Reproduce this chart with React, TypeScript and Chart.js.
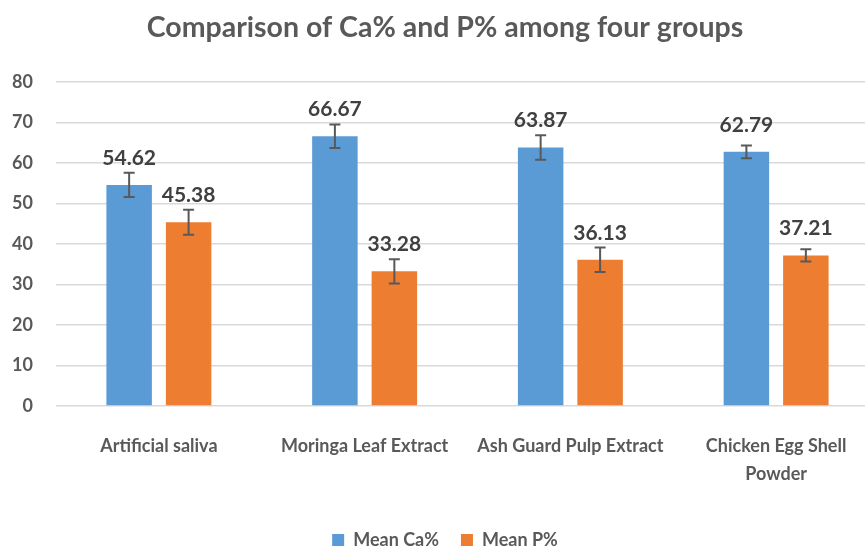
import React, { useEffect, useRef } from "react";
import { Chart, registerables } from "chart.js";

Chart.register(...registerables);

const categories = [
  "Artificial saliva",
  "Moringa Leaf Extract",
  "Ash Guard Pulp Extract",
  ["Chicken Egg Shell", "Powder"],
];
const caValues = [54.62, 66.67, 63.87, 62.79];
const pValues = [45.38, 33.28, 36.13, 37.21];
const caErrors = [3.0, 2.9, 3.0, 1.6];
const pErrors = [3.1, 3.0, 3.0, 1.5];
const yTicks = [0, 10, 20, 30, 40, 50, 60, 70, 80];

const FONT = "Lato, 'DejaVu Sans', sans-serif";
const TEXT = "#595959";

const errorBarPlugin = {
  id: "errorBars",
  afterDatasetsDraw(chart: any) {
    const ctx = chart.ctx;
    const y = chart.scales.y;
    const errs = [caErrors, pErrors];
    chart.data.datasets.forEach((ds: any, di: number) => {
      const meta = chart.getDatasetMeta(di);
      meta.data.forEach((bar: any, i: number) => {
        const v = ds.data[i];
        const e = errs[di][i];
        const yt = y.getPixelForValue(v + e);
        const yb = y.getPixelForValue(v - e);
        const x = bar.x;
        ctx.save();
        ctx.strokeStyle = "#595959";
        ctx.lineWidth = 2;
        ctx.beginPath();
        ctx.moveTo(x, yt);
        ctx.lineTo(x, yb);
        ctx.moveTo(x - 5.5, yt);
        ctx.lineTo(x + 5.5, yt);
        ctx.moveTo(x - 5.5, yb);
        ctx.lineTo(x + 5.5, yb);
        ctx.stroke();
        ctx.restore();
      });
    });
  },
};

const labelPlugin = {
  id: "valueLabels",
  afterDatasetsDraw(chart: any) {
    const ctx = chart.ctx;
    chart.data.datasets.forEach((ds: any, di: number) => {
      const meta = chart.getDatasetMeta(di);
      meta.data.forEach((bar: any, i: number) => {
        ctx.save();
        ctx.fillStyle = "#404040";
        ctx.font = "bold 21px " + FONT;
        ctx.textAlign = "center";
        ctx.textBaseline = "middle";
        ctx.fillText(ds.data[i].toFixed(2), bar.x, bar.y - 27);
        ctx.restore();
      });
    });
  },
};

export default function App() {
  const ref = useRef<HTMLCanvasElement>(null);
  useEffect(() => {
    if (!ref.current) return;
    const chart = new Chart(ref.current, {
      type: "bar",
      data: {
        labels: categories as any,
        datasets: [
          {
            label: "Mean Ca%",
            data: caValues,
            backgroundColor: "#5B9BD5",
            categoryPercentage: 0.578,
            barPercentage: 0.765,
          },
          {
            label: "Mean P%",
            data: pValues,
            backgroundColor: "#ED7D31",
            categoryPercentage: 0.578,
            barPercentage: 0.765,
          },
        ],
      },
      options: {
        animation: false,
        responsive: false,
        maintainAspectRatio: false,
        layout: { padding: { left: 0, right: 0, top: 10, bottom: 1 } },
        plugins: {
          title: {
            display: true,
            text: "Comparison of Ca% and P% among four groups",
            color: TEXT,
            font: { family: FONT, size: 28.5, weight: "bold", lineHeight: 1.2 },
            padding: { top: 1, bottom: 37 },
          },
          legend: {
            position: "bottom",
            labels: {
              color: TEXT,
              font: { family: FONT, size: 18, weight: "bold" },
              boxWidth: 12,
              boxHeight: 12,
              padding: 22,
            },
          },
          tooltip: { enabled: false },
        },
        scales: {
          x: {
            grid: { display: false, drawTicks: false },
            border: { display: false },
            ticks: {
              color: TEXT,
              font: { family: FONT, size: 18, weight: "bold", lineHeight: 1.556 },
              padding: 26,
              maxRotation: 0,
              autoSkip: false,
            },
            afterFit(scale: any) {
              scale.height = 103;
            },
          },
          y: {
            min: 0,
            max: 80,
            afterBuildTicks(scale: any) {
              scale.ticks = yTicks.map((v) => ({ value: v }));
            },
            grid: { color: "#D9D9D9", lineWidth: 1.5, drawTicks: false },
            border: { display: false },
            ticks: {
              color: TEXT,
              font: { family: FONT, size: 18, weight: "bold" },
              padding: 23,
            },
            afterFit(scale: any) {
              scale.width = 56;
            },
          },
          yRight: {
            type: "linear",
            position: "right",
            min: 0,
            max: 80,
            grid: { display: false, drawTicks: false },
            border: { display: false },
            ticks: { display: false },
            afterFit(scale: any) {
              scale.width = 11;
            },
          },
        },
      },
      plugins: [errorBarPlugin, labelPlugin],
    });
    return () => chart.destroy();
  }, []);
  return (
    <div
      style={{
        position: "fixed",
        left: 0,
        top: 0,
        width: 865,
        height: 547,
        overflow: "hidden",
        background: "#fff",
      }}
    >
      <canvas ref={ref} width={890} height={560} style={{ display: "block" }} />
    </div>
  );
}
